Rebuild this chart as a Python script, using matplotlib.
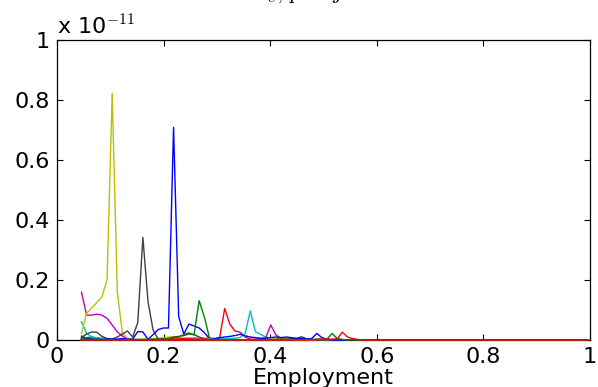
import numpy as np
import matplotlib.pyplot as plt

plt.rcParams['font.family'] = ['DejaVu Sans']
plt.rcParams['mathtext.fontset'] = 'cm'

# employment grid (100 points)
employment = np.linspace(0.046, 0.996, 100)

# density values, units of 1e-11 (only the non-zero head of each curve; rest is 0)
s01_b = [0.013, 0.006, 0.004, 0.002, 0.001]
s02_g = [0.005, 0.008, 0.010, 0.006, 0.003, 0.002, 0.001]
s03_r = [0.003, 0.002, 0.001]
s04_c = [0.061, 0.022, 0.010, 0.008, 0.006, 0.004, 0.003, 0.002, 0.001]
s05_m = [0.159, 0.083, 0.083, 0.086, 0.083, 0.072, 0.050, 0.027, 0.013, 0.005,
         0.002, 0.001]
s06_y = [0.022, 0.089, 0.107, 0.125, 0.144, 0.202, 0.822, 0.161, 0.022, 0.005,
         0.003, 0.002, 0.002, 0.003, 0.004, 0.006, 0.008, 0.010, 0.010, 0.008,
         0.006, 0.004, 0.002]
s07_k = [0.008, 0.020, 0.027, 0.026, 0.012, 0.005, 0.003, 0.010, 0.020, 0.030,
         0.010, 0.058, 0.342, 0.128, 0.033, 0.003, 0.002, 0.005, 0.010, 0.012,
         0.015, 0.020, 0.018, 0.010, 0.004, 0.002]
s08_b = [0.004, 0.003, 0.002, 0.002, 0.002, 0.003, 0.003, 0.003, 0.005, 0.003,
         0.003, 0.028, 0.027, 0.002, 0.018, 0.035, 0.040, 0.040, 0.709, 0.078,
         0.020, 0.053, 0.047, 0.040, 0.025, 0.005, 0.004, 0.003, 0.002]
s09_g = [0.004, 0.003, 0.002, 0.002, 0.001, 0.001, 0.001, 0.001, 0.001, 0.001,
         0.001, 0.002, 0.002, 0.002, 0.003, 0.003, 0.004, 0.005, 0.006, 0.010,
         0.018, 0.024, 0.017, 0.131, 0.078, 0.008, 0.003, 0.002]
s10_r = [0.001, 0.001, 0.001, 0.001, 0.001, 0.001, 0.001, 0.001, 0.001, 0.001,
         0.001, 0.001, 0.001, 0.001, 0.001, 0.002, 0.002, 0.002, 0.003, 0.004,
         0.005, 0.006, 0.006, 0.006, 0.006, 0.005, 0.005, 0.007, 0.105, 0.053,
         0.030, 0.026, 0.010, 0.003]
s11_c = [0.001, 0.001, 0.001, 0.001, 0.001, 0.001, 0.001, 0.001, 0.001, 0.001,
         0.001, 0.001, 0.001, 0.001, 0.001, 0.001, 0.001, 0.001, 0.001, 0.001,
         0.001, 0.001, 0.002, 0.002, 0.002, 0.003, 0.003, 0.004, 0.004, 0.005,
         0.006, 0.008, 0.022, 0.097, 0.028, 0.019, 0.010, 0.005, 0.002]
s12_m = [0.0] * 33 + [0.002, 0.003, 0.004, 0.007, 0.050, 0.017, 0.006, 0.003,
                      0.002]
s13_y = [0.0] * 36 + [0.002, 0.003, 0.004, 0.005, 0.004, 0.002]
s14_k = [0.0] * 38 + [0.002, 0.003, 0.003, 0.004, 0.004, 0.011, 0.004, 0.002]
s15_b = [0.0] * 26 + [0.004, 0.008, 0.010, 0.012, 0.015, 0.019, 0.014, 0.010,
                      0.008, 0.006, 0.006, 0.008, 0.010, 0.008, 0.010, 0.008,
                      0.006, 0.005, 0.004, 0.005, 0.022, 0.008, 0.003]
s16_g = [0.0] * 44 + [0.002, 0.002, 0.003, 0.003, 0.003, 0.022, 0.005, 0.002]
s17_r = [0.0] * 46 + [0.002, 0.003, 0.003, 0.003, 0.004, 0.026, 0.010, 0.005,
                      0.002]

series = [s01_b, s02_g, s03_r, s04_c, s05_m, s06_y, s07_k, s08_b, s09_g,
          s10_r, s11_c, s12_m, s13_y, s14_k, s15_b, s16_g, s17_r]

# old MATLAB colour order
colors = [(0, 0, 1), (0, 0.5, 0), (1, 0, 0), (0, 0.75, 0.75),
          (0.75, 0, 0.75), (0.75, 0.75, 0), (0.25, 0.25, 0.25)]

fig = plt.figure(figsize=(5.98, 3.87), dpi=100)
ax = fig.add_axes([0.0953, 0.1214, 0.8913, 0.7752])

for i, s in enumerate(series):
    y = np.zeros(len(employment))
    y[:len(s)] = s
    ax.plot(employment, y, color=colors[i % 7], linewidth=1.0,
            zorder=3, clip_on=False)

ax.set_xlim(0, 1)
ax.set_ylim(0, 1)
ticks = [0, 0.2, 0.4, 0.6, 0.8, 1]
labels = ['0', '0.2', '0.4', '0.6', '0.8', '1']
ax.set_xticks(ticks)
ax.set_xticklabels(labels)
ax.set_yticks(ticks)
ax.set_yticklabels(labels)
ax.tick_params(direction='in', length=4, width=0.8, top=True, right=True,
               labelsize=16, pad=5)
for sp in ax.spines.values():
    sp.set_linewidth(0.9)

ax.text(0.0, 1.005, r'x 10$^{-11}$', transform=ax.transAxes,
        fontsize=16, ha='left', va='bottom')
ax.set_xlabel('Employment', fontsize=16, labelpad=1)

# title sits mostly above the visible area, only descenders show
fig.text(0.5, 1 + 1 / 387, r'$\pi_e, \, p\, =\, j$', fontsize=16,
         ha='center', va='baseline')

fig.savefig('out.png', dpi=100)
